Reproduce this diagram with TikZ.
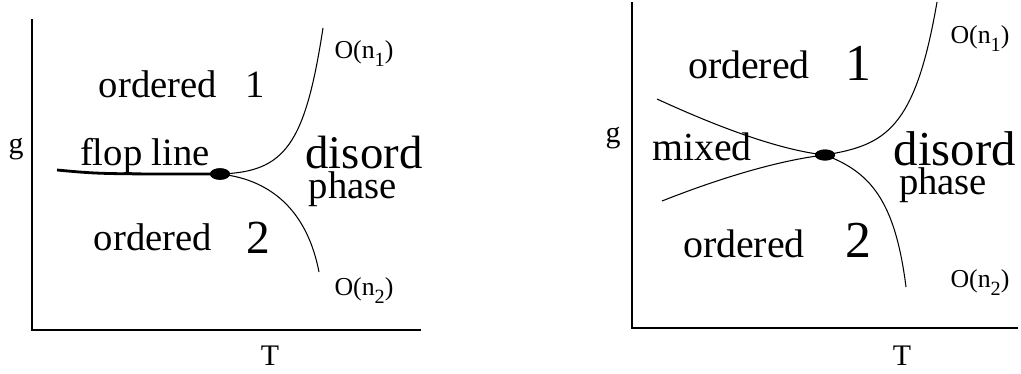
\documentclass[tikz,border=0pt]{standalone}
\usepackage{fontspec}
\setmainfont{Liberation Serif}
\usetikzlibrary{shapes.geometric}
\newcommand{\lowsub}[1]{\raisebox{-5pt}{\fontsize{11.5}{13}\selectfont #1}}

\begin{document}
\begin{tikzpicture}[x=0.02cm, y=-0.02cm,
    every node/.style={inner sep=0pt, anchor=base},
    axislabel/.style={font=\fontsize{17}{20}\selectfont},
    regionlabel/.style={font=\fontsize{22}{26}\selectfont},
    phaselabel/.style={font=\fontsize{22}{26}\selectfont, text height=15pt},
    bignum/.style={font=\fontsize{27}{32}\selectfont},
    biglabel/.style={font=\fontsize{27}{32}\selectfont, text depth=0pt},
    curvelabel/.style={font=\fontsize{14.7}{17}\selectfont},
    boundary/.style={line width=0.6pt},
    critdot/.style={ellipse, fill=black, minimum width=0.4cm, minimum height=0.23cm}]
  \useasboundingbox (0,0) rectangle (1021,373);

  % left panel: flop line ending at a bicritical point
  \draw[line width=0.6pt] (32,19) -- (32,330) -- (421,330);
  \node[axislabel] (gL) at (16,153) {g};
  \node[axislabel] (TL) at (270,365) {T};
  \coordinate (flopL) at (57,170);
  \coordinate (upL) at (323,28);
  \coordinate (lowL) at (319,272);
  \node[critdot] (dotL) at (220,174) {};
  \draw[line width=1.6pt] (flopL) .. controls (100,174) .. (dotL.center);
  \draw[boundary] (dotL.center) .. controls (285,172) and (305,145) .. (upL);
  \draw[boundary] (dotL.center) .. controls (275,180) and (308,215) .. (lowL);
  \node[critdot] at (dotL) {};
  \node[regionlabel] (ord1L) at (158,97) {ordered};
  \node[regionlabel] (num1L) at (255,97) {1};
  \node[regionlabel] (flop) at (145,165) {flop line};
  \node[biglabel, font=\fontsize{26.6}{32}\selectfont] (disL) at (364,168) {disord};
  \node[phaselabel] (phL) at (353,198) {phase};
  \node[regionlabel] (ord2L) at (153,250) {ordered};
  \node[bignum] (num2L) at (258,253) {2};
  \node[curvelabel] (on1L) at (364,58) {O(n\lowsub{1})};
  \node[curvelabel] (on2L) at (364,295) {O(n\lowsub{2})};

  % right panel: tetracritical point with mixed phase
  \draw[line width=0.6pt] (632,2) -- (632,328) -- (1018,328);
  \node[axislabel] (gR) at (613,142) {g};
  \node[axislabel] (TR) at (902,365) {T};
  \coordinate (upR) at (937,2);
  \coordinate (lowR) at (906,287);
  \coordinate (mixupR) at (657,99);
  \coordinate (mixlowR) at (662,201);
  \node[critdot, minimum height=0.22cm] (dotR) at (825,155) {};
  \draw[boundary] (dotR.center) .. controls (885,145) and (915,130) .. (upR);
  \draw[boundary] (dotR.center) .. controls (870,172) and (895,200) .. (lowR);
  \draw[boundary] (mixupR) .. controls (720,128) and (780,150) .. (dotR.center);
  \draw[boundary] (mixlowR) .. controls (720,178) and (780,160) .. (dotR.center);
  \node[critdot, minimum height=0.22cm] at (dotR) {};
  \node[regionlabel, font=\fontsize{22.7}{26}\selectfont] (ord1R) at (749,78) {ordered};
  \node[bignum, font=\fontsize{29.5}{34}\selectfont] (num1R) at (858,80) {1};
  \node[regionlabel, font=\fontsize{22.7}{26}\selectfont] (mix) at (702,160) {mixed};
  \node[biglabel, font=\fontsize{27.8}{32}\selectfont] (disR) at (955,165) {disord};
  \node[phaselabel] (phR) at (943,194) {phase};
  \node[regionlabel, font=\fontsize{22.7}{26}\selectfont] (ord2R) at (744,257) {ordered};
  \node[bignum, font=\fontsize{29.5}{34}\selectfont] (num2R) at (858,257) {2};
  \node[curvelabel] (on1R) at (980,43) {O(n\lowsub{1})};
  \node[curvelabel] (on2R) at (980,287) {O(n\lowsub{2})};
\end{tikzpicture}
\end{document}
